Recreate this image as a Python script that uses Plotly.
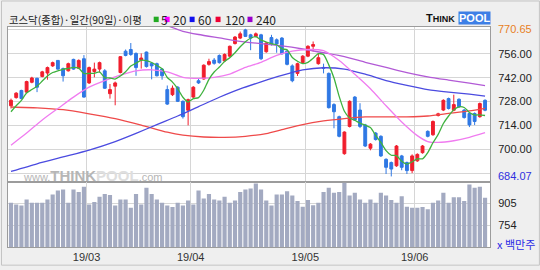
import plotly.graph_objects as go

# ---------------- data ----------------
idx = list(range(92))  # trading-day index, 2019-02-08 .. 2019-06-21

opens = [725.5, 730.3, 734.5, 733.5, 739.3, 741.6, 742.7, 744.7, 748.9, 752.1,
         747.3, 746.0, 752.7, 747.5, 753.1, 738.9, 745.6, 747.0, 746.0, 732.6,
         737.0, 745.0, 757.5, 758.5, 756.2, 752.3, 757.0, 750.4, 750.2, 747.0,
         735.0, 732.0, 736.4, 728.1, 722.9, 730.6, 740.2, 741.2, 749.8, 752.3,
         755.0, 751.8, 754.6, 762.0, 765.2, 770.0, 767.1, 766.2, 767.1, 757.2,
         765.5, 764.2, 765.2, 757.5, 748.9, 744.5, 750.8, 754.6, 760.4, 750.2,
         748.0, 744.5, 726.2, 719.1, 697.4, 713.4, 730.6, 723.0, 714.3, 700.6,
         709.5, 707.6, 694.1, 692.2, 690.3, 696.1, 692.2, 687.5, 693.2, 698.0,
         710.5, 708.5, 719.8, 723.0, 729.7, 722.9, 729.3, 723.0, 721.0, 721.0,
         719.1, 728.7]
highs = [729.7, 733.5, 734.9, 740.2, 742.5, 742.0, 746.0, 748.5, 751.4, 752.3,
         747.9, 750.8, 753.1, 752.7, 755.2, 748.5, 750.8, 751.4, 747.0, 738.3,
         739.7, 754.6, 758.5, 762.3, 756.8, 756.2, 757.3, 750.8, 750.8, 747.5,
         737.4, 737.4, 737.0, 728.7, 729.7, 737.0, 741.2, 749.8, 753.1, 753.5,
         755.6, 756.2, 760.8, 766.4, 769.0, 770.65, 767.7, 768.5, 767.7, 762.9,
         767.1, 765.0, 765.8, 758.1, 749.8, 750.8, 755.2, 761.0, 763.2, 756.4,
         750.2, 745.0, 727.0, 719.7, 710.5, 728.7, 731.2, 727.0, 714.9, 703.6,
         710.1, 708.2, 694.7, 692.8, 702.5, 696.7, 692.8, 697.0, 697.6, 702.5,
         711.1, 716.9, 721.4, 729.3, 730.3, 732.0, 729.9, 723.6, 721.6, 721.6,
         727.4, 729.3]
lows = [723.9, 729.7, 729.3, 733.1, 738.7, 733.5, 742.2, 740.8, 748.3, 746.6,
        739.7, 745.6, 746.6, 747.0, 730.3, 738.3, 742.2, 745.0, 735.4, 729.7,
        725.8, 744.5, 754.5, 754.8, 743.1, 747.3, 747.9, 741.0, 742.7, 740.8,
        726.0, 731.2, 727.7, 718.0, 714.0, 730.0, 738.3, 740.8, 749.0, 749.6,
        750.2, 751.2, 754.0, 761.4, 764.6, 765.8, 758.1, 765.6, 752.3, 756.6,
        760.8, 756.6, 755.4, 749.2, 739.3, 743.0, 750.2, 754.0, 757.3, 749.6,
        744.5, 723.9, 712.3, 707.0, 696.8, 712.8, 716.6, 712.4, 701.3, 699.4,
        705.1, 695.5, 685.5, 684.07, 689.7, 687.7, 685.5, 686.0, 692.6, 697.4,
        707.0, 707.9, 719.2, 722.4, 723.3, 722.3, 724.3, 718.0, 713.0, 714.2,
        718.5, 722.3]
closes = [728.7, 732.9, 729.7, 739.7, 741.8, 736.4, 745.4, 747.9, 750.8, 747.0,
          743.1, 750.2, 747.0, 752.1, 730.6, 747.9, 747.0, 750.8, 735.8, 735.0,
          738.9, 754.3, 755.0, 755.6, 747.9, 753.5, 748.5, 748.9, 743.1, 743.1,
          726.5, 735.8, 728.1, 719.1, 729.1, 736.4, 738.9, 749.3, 751.4, 750.4,
          750.8, 755.6, 760.4, 765.8, 767.7, 766.2, 765.2, 767.7, 753.1, 762.3,
          761.4, 761.8, 756.0, 749.8, 740.2, 750.2, 754.6, 760.4, 761.4, 753.7,
          747.5, 724.4, 722.0, 707.6, 710.1, 728.1, 717.2, 713.4, 701.9, 703.0,
          705.7, 696.1, 689.4, 688.4, 701.9, 689.4, 687.5, 696.1, 697.0, 701.9,
          707.6, 716.3, 720.8, 728.7, 723.9, 726.2, 724.9, 718.6, 714.3, 716.3,
          726.8, 722.9]
volume = [907, 896, 889, 930, 907, 907, 907, 930, 964, 992,
          999, 907, 999, 981, 1017, 896, 912, 949, 967, 960,
          889, 930, 930, 873, 967, 896, 1010, 967, 930, 907,
          889, 878, 907, 889, 923, 896, 992, 937, 967, 930,
          923, 949, 907, 923, 981, 999, 1006, 1040, 999, 923,
          889, 964, 964, 987, 958, 919, 880, 926, 891, 907,
          981, 1010, 976, 981, 1045, 958, 976, 930, 907, 930,
          907, 976, 958, 926, 907, 953, 880, 873, 873, 878,
          862, 907, 923, 976, 907, 946, 946, 919, 1033, 1010,
          1017, 942]

ma5 = [722.0, 725.5, 728.7, 733.0, 735.0, 737.0, 740.0, 743.0, 745.0, 746.0,
       746.9, 747.4, 748.0, 747.6, 744.4, 744.5, 744.5, 745.4, 742.0, 741.8,
       741.2, 743.0, 745.5, 748.8, 750.5, 752.2, 752.0, 750.9, 749.1, 747.2,
       742.1, 739.4, 735.5, 730.5, 727.7, 729.7, 730.3, 734.6, 741.0, 745.3,
       748.2, 751.5, 753.7, 756.6, 760.1, 763.1, 765.1, 766.0, 764.0, 762.9,
       761.9, 761.3, 758.9, 758.3, 753.8, 751.6, 750.2, 751.0, 753.4, 756.1,
       755.5, 749.5, 741.8, 731.0, 722.3, 718.4, 717.0, 715.3, 714.1, 712.7,
       708.2, 704.0, 699.2, 696.5, 696.3, 693.0, 691.3, 692.7, 694.4, 694.4,
       698.0, 703.8, 708.7, 715.1, 719.5, 723.2, 724.9, 724.5, 721.6, 720.1,
       720.2, 719.8]

ma20_idx = [0, 3, 6, 9, 12, 15, 18, 21, 24, 27, 30, 33, 36, 39, 42, 45, 48, 51,
            54, 57, 60, 63, 66, 69, 72, 75, 78, 80, 82, 85, 88, 91]
ma20 = [702.4, 709.5, 717.2, 723.9, 730.6, 736.4, 740.2, 743.5, 746.0, 746.6,
        745.4, 742.2, 741.6, 742.2, 744.1, 748.0, 751.0, 755.0, 757.5, 758.5,
        757.8, 752.0, 744.0, 735.5, 725.5, 716.0, 708.0, 704.5, 704.0, 705.0,
        707.0, 709.7]

ma60_idx = [0, 5, 10, 15, 20, 24, 28, 32, 36, 40, 44, 48, 52, 56, 60, 64, 68,
            72, 76, 80, 84, 88, 91]
ma60 = [687.0, 691.5, 695.5, 699.5, 704.5, 709.3, 714.5, 719.5, 725.0, 730.5,
        735.4, 739.5, 743.3, 746.5, 747.8, 747.0, 744.0, 740.3, 737.5, 735.0,
        733.5, 732.3, 731.2]

ma120_idx = [0, 5, 10, 15, 20, 25, 30, 33, 37, 41, 45, 49, 52, 56, 60, 64, 68,
             72, 76, 80, 84, 88, 91]
ma120 = [724.8, 724.3, 723.2, 720.8, 718.0, 714.2, 710.0, 708.3, 707.2, 707.0,
         707.6, 709.2, 711.5, 714.5, 716.6, 718.0, 719.0, 719.0, 719.0, 719.5,
         721.0, 722.5, 724.0]

ma240_idx = [30, 33, 36, 40, 44, 48, 52, 56, 60, 64, 68, 72, 76, 80, 84, 88, 91]
ma240 = [772.5, 769.2, 767.3, 765.3, 763.3, 761.9, 760.6, 758.8, 756.6, 754.3,
         751.0, 748.0, 745.0, 742.5, 740.6, 738.8, 737.3]

ma_periods = ["5", "20", "60", "120", "240"]
ma_colors = ["#3fb23f", "#f07cf0", "#4b4be0", "#ef4a4a", "#b25ad6"]
legend_colors = ["#22aa22", "#ff00ff", "#1010ee", "#ee0033", "#9900cc"]

month_first_idx = [15, 35, 57, 78]
month_labels = ["19/03", "19/04", "19/05", "19/06"]
price_ticks = [686, 700, 714, 728, 742, 756, 770]
price_labels = ["", "700.00", "714.00", "728.00", "742.00", "756.00", ""]
price_max = 770.65
price_min = 684.07
vol_ticks = [754, 905]
vol_labels = ["754", "905"]

# ---------------- styles ----------------
UP = "#f01e2d"
DOWN = "#2f78e4"
GRID = "#d6d6d6"
FRAME = "#9c9c9c"
NUMFONT = "Liberation Sans"
KFONT = "Noto Sans CJK KR"

fig = go.Figure()

fig.add_trace(go.Candlestick(
    x=idx, open=opens, high=highs, low=lows, close=closes,
    increasing=dict(line=dict(color=UP, width=1), fillcolor=UP),
    decreasing=dict(line=dict(color=DOWN, width=1), fillcolor=DOWN),
    xaxis="x", yaxis="y", hoverinfo="skip"))

line_specs = [
    (ma240_idx, ma240, ma_colors[4]),
    (ma120_idx, ma120, ma_colors[3]),
    (ma60_idx, ma60, ma_colors[2]),
    (ma20_idx, ma20, ma_colors[1]),
    (idx, ma5, ma_colors[0]),
]
for xs, ys, col in line_specs:
    fig.add_trace(go.Scatter(x=xs, y=ys, mode="lines",
                             line=dict(color=col, width=1.3, shape="spline", smoothing=0.6),
                             xaxis="x", yaxis="y", hoverinfo="skip"))

fig.add_trace(go.Bar(x=idx, y=volume, marker=dict(color="#a3aac1", line=dict(width=0)),
                     xaxis="x", yaxis="y2", hoverinfo="skip"))

split = 1 - 158 / 224

fig.update_layout(
    width=540, height=270,
    margin=dict(l=7, r=50, t=27, b=19),
    paper_bgcolor="#efefef", plot_bgcolor="#ffffff",
    showlegend=False, bargap=0.2, boxgap=0.22,
    xaxis=dict(range=[-0.575, 91.95], anchor="y2",
               tickvals=[i - 0.5 for i in month_first_idx], ticktext=month_labels,
               showgrid=True, gridcolor=GRID, gridwidth=1, zeroline=False,
               showline=True, linecolor=FRAME, linewidth=1, mirror="all",
               ticks="", tickfont=dict(family=NUMFONT, size=11, color="#333333"),
               rangeslider=dict(visible=False)),
    yaxis=dict(domain=[split, 1], range=[680.7, 771.7], side="right",
               tickvals=price_ticks, ticktext=price_labels,
               showgrid=True, gridcolor=GRID, gridwidth=1, zeroline=False,
               showline=True, linecolor=FRAME, linewidth=1, mirror=True,
               ticks="", ticklabelstandoff=5,
               tickfont=dict(family=NUMFONT, size=11, color="#222222")),
    yaxis2=dict(domain=[0, split], range=[603, 1049], side="right",
                tickvals=vol_ticks, ticktext=vol_labels,
                showgrid=True, gridcolor=GRID, gridwidth=1, zeroline=False,
                showline=True, linecolor=FRAME, linewidth=1, mirror=True,
                ticks="", ticklabelstandoff=5,
                tickfont=dict(family=NUMFONT, size=11, color="#222222")),
)

def px_x(p):
    return (p - 7) / 483.0

def px_y(p):
    return (251 - p) / 224.0

anns = [
    dict(text="코스닥(종합)·일간(90일)·이평", x=px_x(6), y=px_y(19), xanchor="left",
         yanchor="middle", font=dict(family=KFONT, size=10.4, color="#222222")),
    dict(text="<b>T<span style='font-size:9px'>HINK</span></b>", x=px_x(457), y=px_y(17.5),
         xanchor="right", yanchor="middle",
         font=dict(family=NUMFONT, size=11, color="#111111")),
    dict(text="<b>POOL</b>", x=px_x(458), y=px_y(17.5), xanchor="left", yanchor="middle",
         bgcolor="#3d7fe6", borderpad=0,
         font=dict(family=NUMFONT, size=11, color="#ffffff")),
    dict(text=("www.<b><span style='font-size:15px'>THINK</span>"
               "<span style='font-size:15px;color:#dedede'>POOL</span></b>.com"),
         x=px_x(20), y=px_y(178), xanchor="left", yanchor="middle",
         font=dict(family=NUMFONT, size=11, color="#b6b6b6")),
    dict(text=f"{price_max:.2f}", xref="paper", yref="y", x=px_x(496), y=price_max,
         xanchor="left", yanchor="middle",
         font=dict(family=NUMFONT, size=11, color="#e8801e")),
    dict(text=f"{price_min:.2f}", xref="paper", yref="y", x=px_x(496), y=price_min,
         xanchor="left", yanchor="middle",
         font=dict(family=NUMFONT, size=11, color="#2f2fe0")),
    dict(text="x 백만주", x=px_x(495), y=px_y(248), xanchor="left", yanchor="middle",
         font=dict(family=KFONT, size=11, color="#2a2ae6")),
]

# legend of moving-average periods (colour square + period)
sq_left = [153, 164, 189, 215, 247]
num_left = [158.5, 170, 195, 222, 254]
for sx, nx, per, col in zip(sq_left, num_left, ma_periods, legend_colors):
    fig.add_shape(type="rect", xref="paper", yref="paper",
                  x0=px_x(sx), x1=px_x(sx + 5), y0=px_y(22), y1=px_y(16.5),
                  line=dict(width=0), fillcolor=col)
    anns.append(dict(text=per, x=px_x(nx), y=px_y(19), xanchor="left", yanchor="middle",
                     font=dict(family=KFONT, size=12, color="#222222")))

for a in anns:
    a.setdefault("xref", "paper")
    a.setdefault("yref", "paper")
    a["showarrow"] = False
    fig.add_annotation(**a)

fig.add_shape(type="rect", xref="paper", yref="paper",
              x0=px_x(0.5), x1=px_x(539.5), y0=px_y(269.5), y1=px_y(0.5),
              line=dict(color="#c4c4c4", width=1), fillcolor="rgba(0,0,0,0)", layer="below")

fig.write_html("out.html")
